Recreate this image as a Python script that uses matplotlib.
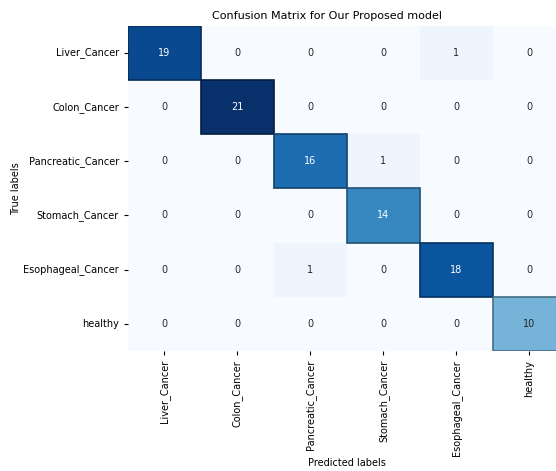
import matplotlib.pyplot as plt
import matplotlib.patches as mpatches
import numpy as np
import seaborn as sns

# --- Data ---
class_names = ['Liver_Cancer', 'Colon_Cancer', 'Pancreatic_Cancer',
               'Stomach_Cancer', 'Esophageal_Cancer', 'healthy']
row_liver = [19, 0, 0, 0, 1, 0]
row_colon = [0, 21, 0, 0, 0, 0]
row_pancreatic = [0, 0, 16, 1, 0, 0]
row_stomach = [0, 0, 0, 14, 0, 0]
row_esophageal = [0, 0, 1, 0, 18, 0]
row_healthy = [0, 0, 0, 0, 0, 10]

cm = np.array([row_liver, row_colon, row_pancreatic,
               row_stomach, row_esophageal, row_healthy])

# --- Plot ---
fig = plt.figure(figsize=(5.56, 4.71), dpi=100)
ax = fig.add_axes([0.230, 0.255, 0.788, 0.690])

sns.heatmap(cm, annot=True, fmt='d', cmap='Blues', cbar=False,
            xticklabels=class_names, yticklabels=class_names,
            annot_kws={'fontsize': 7}, ax=ax)

# darker outline around the diagonal cells
cmap = plt.get_cmap('Blues')
for i in range(len(class_names)):
    face = np.array(cmap(cm[i, i] / cm.max())[:3])
    ax.add_patch(mpatches.Rectangle((i, i), 1, 1, fill=False,
                                    edgecolor=face * 0.6, linewidth=1.2))

ax.set_title('Confusion Matrix for Our Proposed model', fontsize=8, x=0.455, pad=5)
ax.set_xlabel('Predicted labels', fontsize=7)
ax.set_ylabel('True labels', fontsize=7)
ax.xaxis.set_label_coords(0.5, -0.33)
ax.yaxis.set_label_coords(-0.245, 0.5)
ax.tick_params(axis='both', labelsize=7, length=3, width=0.8)
plt.setp(ax.get_xticklabels(), rotation=90)
plt.setp(ax.get_yticklabels(), rotation=0)

plt.savefig('out.png', dpi=100)
